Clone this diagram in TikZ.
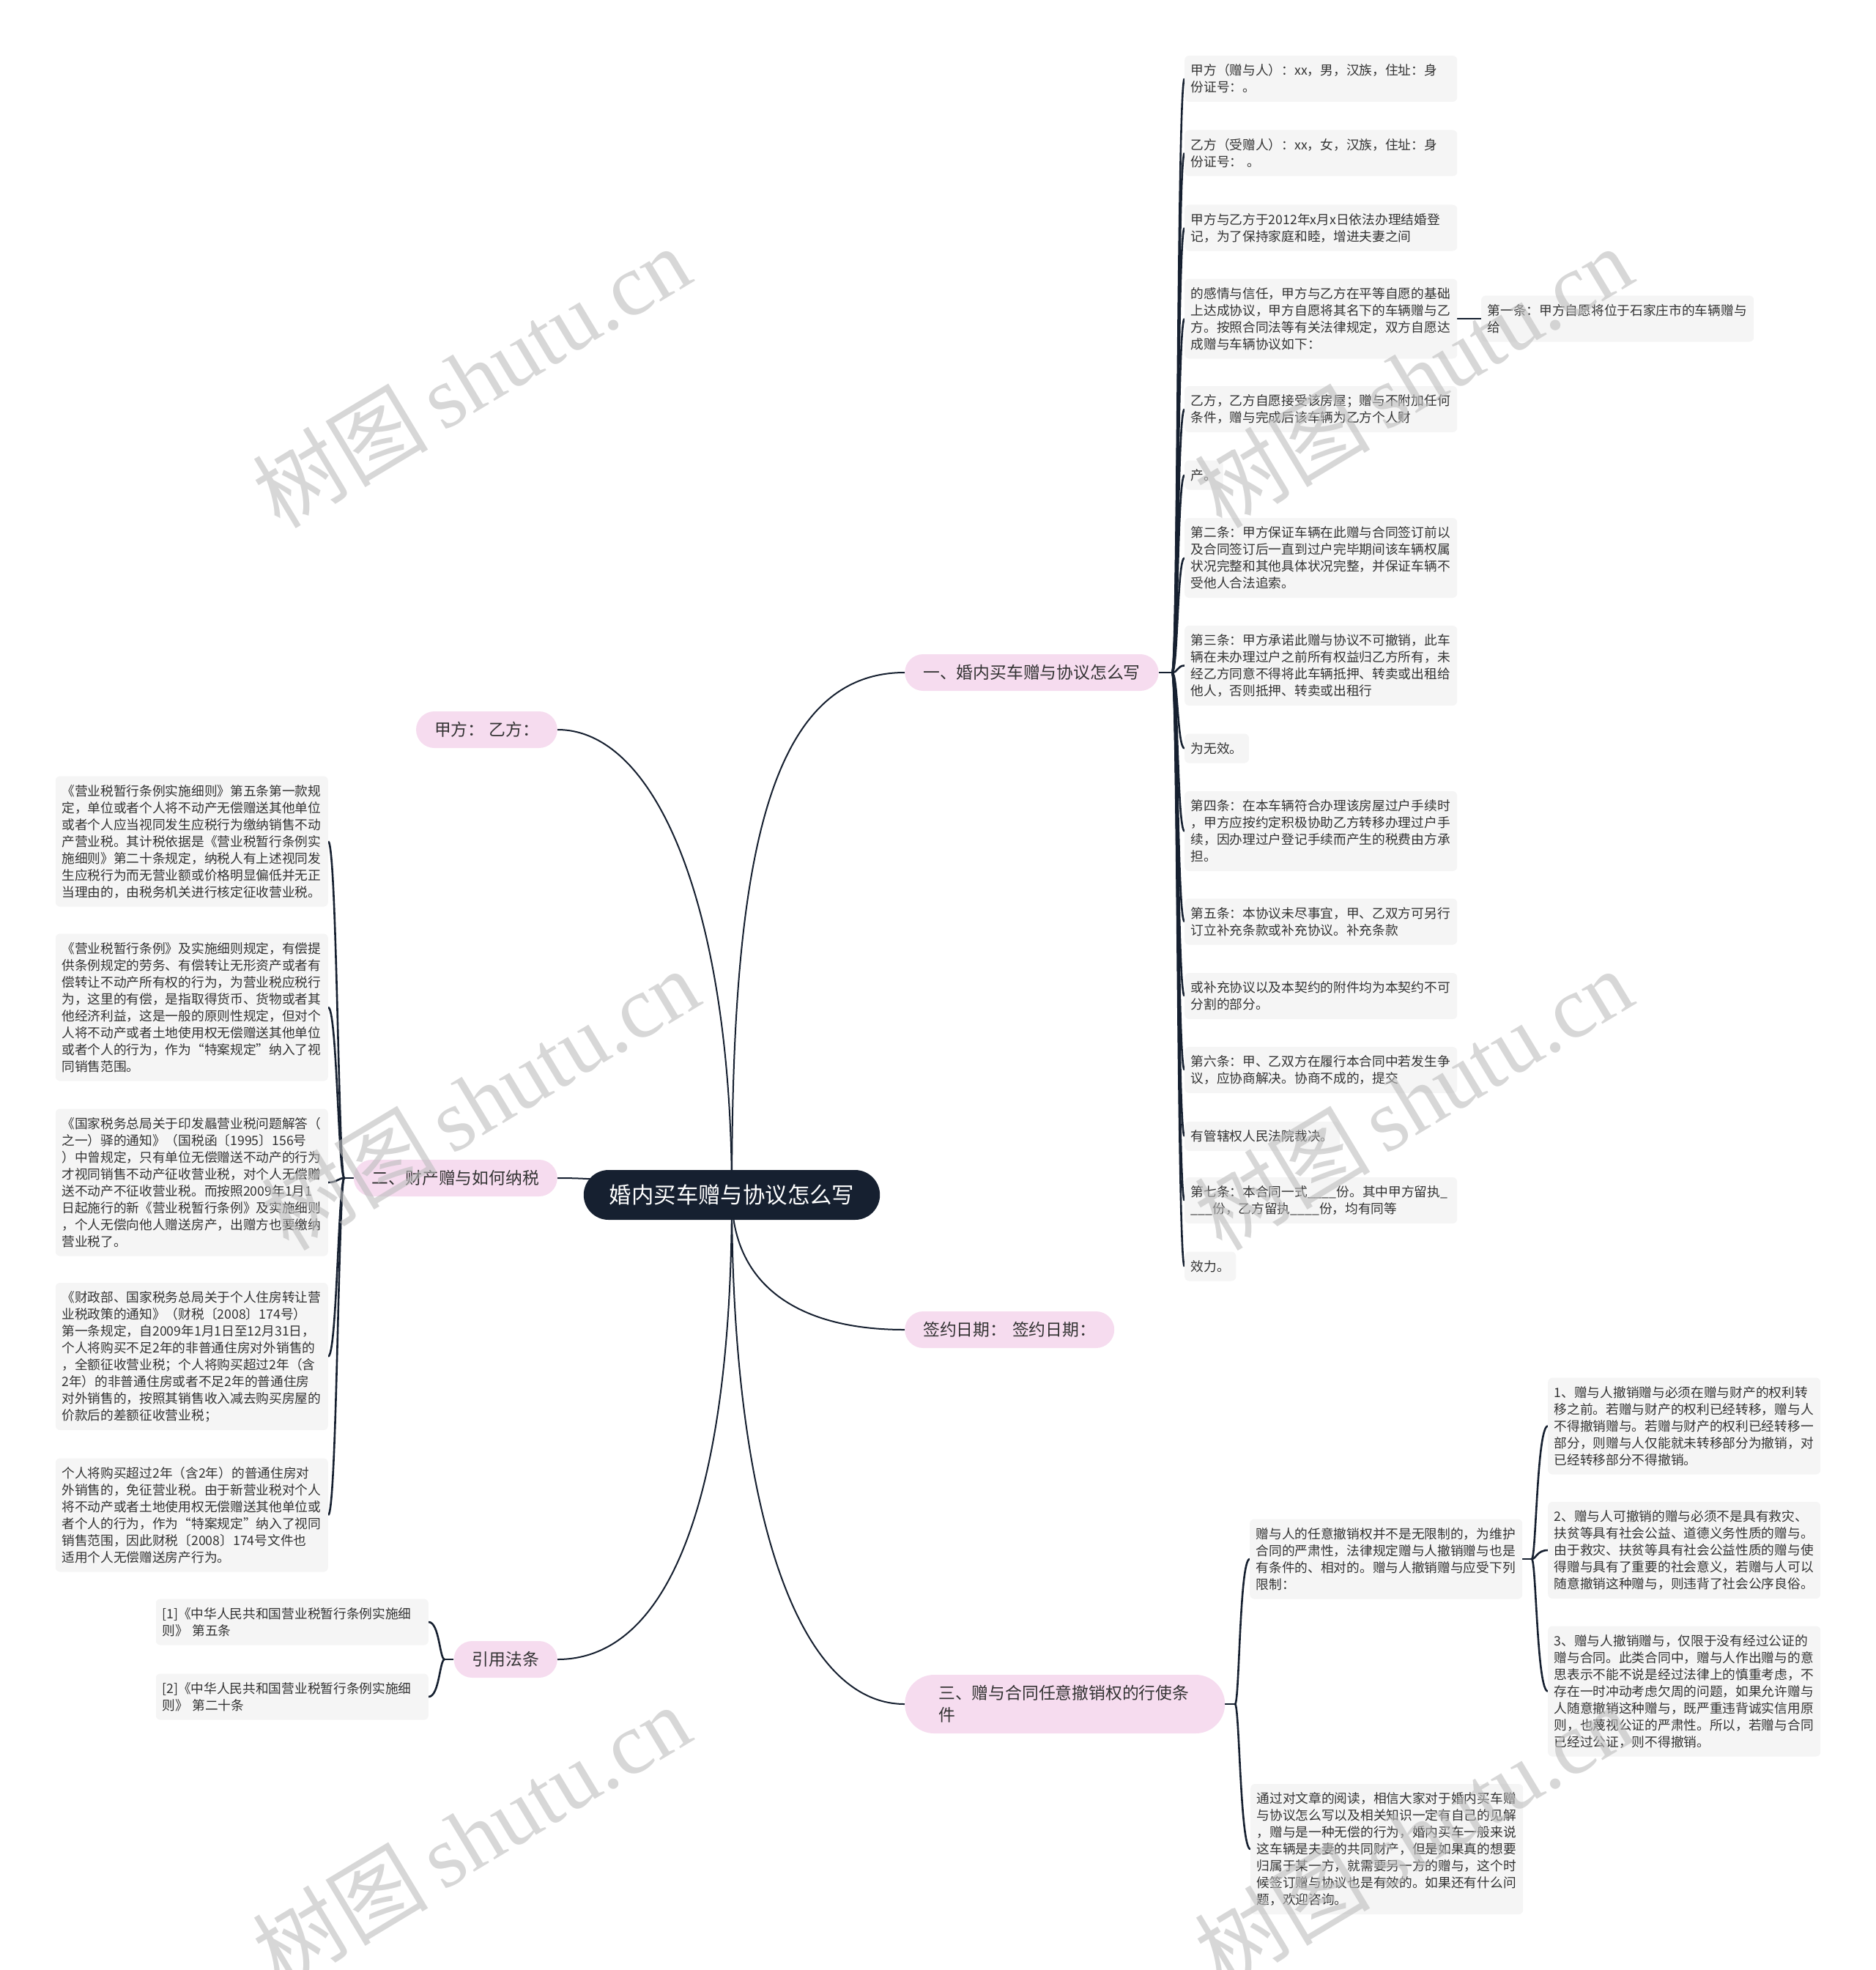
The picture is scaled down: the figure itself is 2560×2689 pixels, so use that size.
\documentclass[tikz,border=0pt]{standalone}
\usepackage{fontspec}
\setmainfont{Noto Sans CJK SC}
\newfontfamily\wmlatin{Liberation Serif}
\newfontfamily\wmcjk{Noto Sans CJK SC}
\usetikzlibrary{backgrounds}
\definecolor{navy}{HTML}{162030}
\definecolor{pinkfill}{HTML}{F6DCEF}
\definecolor{leaffill}{HTML}{F5F5F5}
\definecolor{txt}{HTML}{333333}
\definecolor{wmgray}{HTML}{BDBDBD}
\tikzset{
  rootnode/.style={fill=navy, text=white, rounded corners=34pt, minimum height=68pt, inner xsep=35pt, inner ysep=0pt, font=\fontsize{30.4}{36}\selectfont},
  topic/.style={fill=pinkfill, text=txt, rounded corners=25pt, minimum height=50pt, inner xsep=25pt, inner ysep=0pt, font=\fontsize{22.8}{30}\selectfont},
  leafbox/.style={fill=leaffill, text=txt, rounded corners=6pt, inner xsep=8.5pt, inner ysep=0pt, font=\fontsize{17.7}{23}\selectfont, align=left},
  hl/.style={minimum height={#1*23pt+17pt}},
  wide/.style={leafbox, text width=355pt, hl=#1},
  short/.style={leafbox, hl=1},
  link/.style={draw=navy, line width=2pt},
  brace/.style={draw=navy, line width=2.6pt},
  wmark/.style={text=wmgray, opacity=0.6, rotate=31, font=\fontsize{120}{120}\selectfont}
}
\begin{document}
\begin{tikzpicture}[x=1pt,y=-1pt]
\useasboundingbox (0,0) rectangle (2560,2689);

% root
\node[rootnode] (root) at (999,1631) {婚内买车赠与协议怎么写};

% level 1
\node[topic, anchor=west] (n1) at (1235,918) {一、婚内买车赠与协议怎么写};
\node[topic, anchor=west] (sign) at (1235,1815) {签约日期：\hspace{8pt}签约日期：};
\node[topic, anchor=west, text width=345pt, align=left, minimum height=80pt, rounded corners=40pt, inner xsep=46pt] (n3) at (1235,2326) {三、赠与合同任意撤销权的行使条\\件};
\node[topic, anchor=east] (jia) at (761,996) {甲方：\hspace{6pt}乙方：};
\node[topic, anchor=east] (n2) at (761,1608) {二、财产赠与如何纳税};
\node[topic, anchor=east] (cite) at (761,2265) {引用法条};

% right column leaves (branch 一)
\node[wide=2, anchor=west] (r1) at (1617,107.5) {甲方（赠与人）：xx，男，汉族，住址：身\\份证号：。};
\node[wide=2, anchor=west] (r2) at (1617,209) {乙方（受赠人）：xx，女，汉族，住址：身\\份证号： 。};
\node[wide=2, anchor=west] (r3) at (1617,311) {甲方与乙方于2012年x月x日依法办理结婚登\\记，为了保持家庭和睦，增进夫妻之间};
\node[wide=4, anchor=west] (r4) at (1617,435) {的感情与信任，甲方与乙方在平等自愿的基础\\上达成协议，甲方自愿将其名下的车辆赠与乙\\方。按照合同法等有关法律规定，双方自愿达\\成赠与车辆协议如下：};
\node[wide=2, anchor=west] (f1) at (2022,435) {第一条：甲方自愿将位于石家庄市的车辆赠与\\给};
\node[wide=2, anchor=west] (r5) at (1617,558.5) {乙方，乙方自愿接受该房屋；赠与不附加任何\\条件，赠与完成后该车辆为乙方个人财};
\node[short, anchor=west] (r6) at (1617,648.5) {产。};
\node[wide=4, anchor=west] (r7) at (1617,761.5) {第二条：甲方保证车辆在此赠与合同签订前以\\及合同签订后一直到过户完毕期间该车辆权属\\状况完整和其他具体状况完整，并保证车辆不\\受他人合法追索。};
\node[wide=4, anchor=west] (r8) at (1617,908.5) {第三条：甲方承诺此赠与协议不可撤销，此车\\辆在未办理过户之前所有权益归乙方所有，未\\经乙方同意不得将此车辆抵押、转卖或出租给\\他人，否则抵押、转卖或出租行};
\node[short, anchor=west] (r9) at (1617,1021.5) {为无效。};
\node[wide=4, anchor=west] (r10) at (1617,1134.5) {第四条：在本车辆符合办理该房屋过户手续时\\，甲方应按约定积极协助乙方转移办理过户手\\续，因办理过户登记手续而产生的税费由方承\\担。};
\node[wide=2, anchor=west] (r11) at (1617,1258) {第五条：本协议未尽事宜，甲、乙双方可另行\\订立补充条款或补充协议。补充条款};
\node[wide=2, anchor=west] (r12) at (1617,1359.5) {或补充协议以及本契约的附件均为本契约不可\\分割的部分。};
\node[wide=2, anchor=west] (r13) at (1617,1460.5) {第六条：甲、乙双方在履行本合同中若发生争\\议，应协商解决。协商不成的，提交};
\node[short, anchor=west] (r14) at (1617,1551) {有管辖权人民法院裁决。};
\node[wide=2, anchor=west] (r15) at (1617,1638.5) {第七条：本合同一式\_\_\_\_份。其中甲方留执\_\\\_\_\_份，乙方留执\_\_\_\_份，均有同等};
\node[short, anchor=west] (r16) at (1617,1728.5) {效力。};

% left column leaves (branch 二)
\node[wide=7, anchor=east] (la) at (448,1148.5) {《营业税暂行条例实施细则》第五条第一款规\\定，单位或者个人将不动产无偿赠送其他单位\\或者个人应当视同发生应税行为缴纳销售不动\\产营业税。其计税依据是《营业税暂行条例实\\施细则》第二十条规定，纳税人有上述视同发\\生应税行为而无营业额或价格明显偏低并无正\\当理由的，由税务机关进行核定征收营业税。};
\node[wide=8, anchor=east] (lb) at (448,1375) {《营业税暂行条例》及实施细则规定，有偿提\\供条例规定的劳务、有偿转让无形资产或者有\\偿转让不动产所有权的行为，为营业税应税行\\为，这里的有偿，是指取得货币、货物或者其\\他经济利益，这是一般的原则性规定，但对个\\人将不动产或者土地使用权无偿赠送其他单位\\或者个人的行为，作为“特案规定”纳入了视\\同销售范围。};
\node[wide=8, anchor=east] (lc) at (448,1614) {《国家税务总局关于印发曧营业税问题解答（\\之一）驿的通知》（国税函〔1995〕156号\\）中曾规定，只有单位无偿赠送不动产的行为\\才视同销售不动产征收营业税，对个人无偿赠\\送不动产不征收营业税。而按照2009年1月1\\日起施行的新《营业税暂行条例》及实施细则\\，个人无偿向他人赠送房产，出赠方也要缴纳\\营业税了。};
\node[wide=8, anchor=east] (ld) at (448,1851.5) {《财政部、国家税务总局关于个人住房转让营\\业税政策的通知》（财税〔2008〕174号）\\第一条规定，自2009年1月1日至12月31日，\\个人将购买不足2年的非普通住房对外销售的\\，全额征收营业税；个人将购买超过2年（含\\2年）的非普通住房或者不足2年的普通住房\\对外销售的，按照其销售收入减去购买房屋的\\价款后的差额征收营业税；};
\node[wide=6, anchor=east] (le) at (448,2068) {个人将购买超过2年（含2年）的普通住房对\\外销售的，免征营业税。由于新营业税对个人\\将不动产或者土地使用权无偿赠送其他单位或\\者个人的行为，作为“特案规定”纳入了视同\\销售范围，因此财税〔2008〕174号文件也\\适用个人无偿赠送房产行为。};

% citation leaves
\node[wide=2, anchor=east] (c1) at (585,2214) {[1]《中华人民共和国营业税暂行条例实施细\\则》 第五条};
\node[wide=2, anchor=east] (c2) at (585,2316) {[2]《中华人民共和国营业税暂行条例实施细\\则》 第二十条};

% branch 三 leaves
\node[wide=4, anchor=west] (p) at (1706,2128) {赠与人的任意撤销权并不是无限制的，为维护\\合同的严肃性，法律规定赠与人撤销赠与也是\\有条件的、相对的。赠与人撤销赠与应受下列\\限制：};
\node[wide=5, anchor=west] (q1) at (2113,1946.5) {1、赠与人撤销赠与必须在赠与财产的权利转\\移之前。若赠与财产的权利已经转移，赠与人\\不得撤销赠与。若赠与财产的权利已经转移一\\部分，则赠与人仅能就未转移部分为撤销，对\\已经转移部分不得撤销。};
\node[wide=5, anchor=west] (q2) at (2113,2116) {2、赠与人可撤销的赠与必须不是具有救灾、\\扶贫等具有社会公益、道德义务性质的赠与。\\由于救灾、扶贫等具有社会公益性质的赠与使\\得赠与具有了重要的社会意义，若赠与人可以\\随意撤销这种赠与，则违背了社会公序良俗。};
\node[wide=7, anchor=west] (q3) at (2113,2308.5) {3、赠与人撤销赠与，仅限于没有经过公证的\\赠与合同。此类合同中，赠与人作出赠与的意\\思表示不能不说是经过法律上的慎重考虑，不\\存在一时冲动考虑欠周的问题，如果允许赠与\\人随意撤销这种赠与，既严重违背诚实信用原\\则，也蔑视公证的严肃性。所以，若赠与合同\\已经过公证，则不得撤销。};
\node[wide=7, anchor=west] (r) at (1707,2524) {通过对文章的阅读，相信大家对于婚内买车赠\\与协议怎么写以及相关知识一定有自己的见解\\，赠与是一种无偿的行为，婚内买车一般来说\\这车辆是夫妻的共同财产，但是如果真的想要\\归属于某一方，就需要另一方的赠与，这个时\\候签订赠与协议也是有效的。如果还有什么问\\题，欢迎咨询。};

% hubs
\coordinate (h1) at (1600,918);
\coordinate (h2) at (470,1608);
\coordinate (hc) at (607,2265);
\coordinate (h3) at (1686,2326);
\coordinate (hp) at (2091,2128);

\begin{scope}[on background layer]
\draw[link] (root.center) .. controls +(0,-430) and +(-195,0) .. (n1.west);
\draw[link] (root.center) .. controls +(0,120) and +(-150,0) .. (sign.west);
\draw[link] (root.center) .. controls +(0,420) and +(-150,0) .. (n3.west);
\draw[link] (root.center) .. controls +(0,-380) and +(139,0) .. (jia.east);
\draw[link] (root.center) .. controls +(-120,0) and +(120,0) .. (n2.east);
\draw[link] (root.center) .. controls +(0,420) and +(150,0) .. (cite.east);

\draw[brace] (n1.east) -- (h1);
\foreach \n in {r1,r2,r3,r4,r5,r6,r7,r8,r9,r10,r11,r12,r13,r14,r15,r16}
  \draw[brace] (h1) .. controls +(8,0) and +(-10,0) .. (\n.west);
\draw[brace] (r4.east) -- (f1.west);

\draw[brace] (n2.west) -- (h2);
\foreach \n in {la,lb,lc,ld,le}
  \draw[brace] (h2) .. controls +(-8,0) and +(12,0) .. (\n.east);

\draw[brace] (cite.west) -- (hc);
\foreach \n in {c1,c2}
  \draw[brace] (hc) .. controls +(-7,0) and +(15,0) .. (\n.east);

\draw[brace] (n3.east) -- (h3);
\foreach \n in {p,r}
  \draw[brace] (h3) .. controls +(6,0) and +(-14,0) .. (\n.west);

\draw[brace] (p.east) -- (hp);
\foreach \n in {q1,q2,q3}
  \draw[brace] (hp) .. controls +(6,0) and +(-15,0) .. (\n.west);
\end{scope}

% watermarks
\node[wmark] (wm1) at (643,514) {{\wmcjk 树图}\,{\wmlatin shutu.cn}};
\node[wmark] (wm2) at (655,1500) {{\wmcjk 树图}\,{\wmlatin shutu.cn}};
\node[wmark] (wm3) at (643,2505) {{\wmcjk 树图}\,{\wmlatin shutu.cn}};
\node[wmark] (wm4) at (1929,514) {{\wmcjk 树图}\,{\wmlatin shutu.cn}};
\node[wmark] (wm5) at (1929,1500) {{\wmcjk 树图}\,{\wmlatin shutu.cn}};
\node[wmark] (wm6) at (1929,2505) {{\wmcjk 树图}\,{\wmlatin shutu.cn}};
\end{tikzpicture}
\end{document}
